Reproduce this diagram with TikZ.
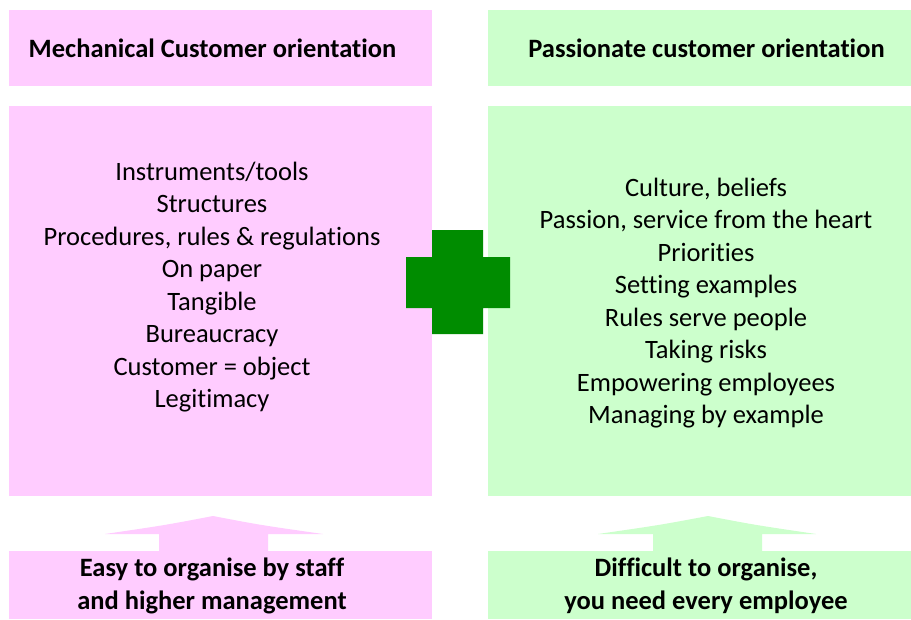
\documentclass[tikz,border=0pt]{standalone}
\usepackage{fontspec}
\setmainfont[Ligatures={NoCommon,NoContextual}]{Carlito}
\definecolor{pinkc}{RGB}{255,204,255}
\definecolor{greenc}{RGB}{204,255,204}
\definecolor{plusc}{RGB}{0,140,0}
\begin{document}
\begin{tikzpicture}[x=1pt,y=-1pt,
  box/.style={draw=none,inner sep=0pt,outer sep=0pt,anchor=north west},
  txt/.style={inner sep=0pt,align=center,font=\fontsize{26.5}{32.5}\selectfont},
  btxt/.style={txt,font=\fontsize{26.5}{32.5}\selectfont\bfseries}]
\useasboundingbox (0,0) rectangle (911,619);
\fill[white] (0,0) rectangle (911,619);
% boxes
\node[box,fill=pinkc,minimum width=423pt,minimum height=76pt] (lh) at (9,10) {};
\node[box,fill=greenc,minimum width=423pt,minimum height=76pt] (rh) at (488,10) {};
\node[box,fill=pinkc,minimum width=423pt,minimum height=390pt] (lm) at (9,106) {};
\node[box,fill=greenc,minimum width=423pt,minimum height=390pt] (rm) at (488,106) {};
\node[box,fill=pinkc,minimum width=423pt,minimum height=68pt] (lb) at (9,551) {};
\node[box,fill=greenc,minimum width=423pt,minimum height=68pt] (rb) at (488,551) {};
% arrows
\fill[pinkc] (213,516) .. controls (260,525) .. (323,534) -- (268,534) -- (268,552) -- (159,552) -- (159,534) -- (105,534) .. controls (166,525) .. cycle;
\fill[greenc] (708,516) .. controls (755,525) .. (816,534) -- (762,534) -- (762,552) -- (653,552) -- (653,534) -- (598,534) .. controls (660,525) .. cycle;
% plus
\fill[plusc] (432,230) -- (483,230) -- (483,257) -- (510,257) -- (510,308) -- (483,308) -- (483,334) -- (432,334) -- (432,308) -- (406,308) -- (406,257) -- (432,257) -- cycle;
% texts
\node[btxt] (lht) at (212.5,48) {Mechanical Customer orientation};
\node[btxt] (rht) at (706.5,48) {Passionate customer orientation};
\node[txt] (lmt) at (212,287) {Instruments/tools\\Structures\\Procedures, rules \& regulations\\On paper\\Tangible\\Bureaucracy\\Customer = object\\Legitimacy};
\node[txt] (rmt) at (706,303) {Culture, beliefs\\Passion, service from the heart\\Priorities\\Setting examples\\Rules serve people\\Taking risks\\Empowering employees\\Managing by example};
\node[btxt] (lbt) at (212,586) {Easy to organise by staff\\and higher management};
\node[btxt] (rbt) at (706,586) {Difficult to organise,\\you need every employee};
\end{tikzpicture}
\end{document}
